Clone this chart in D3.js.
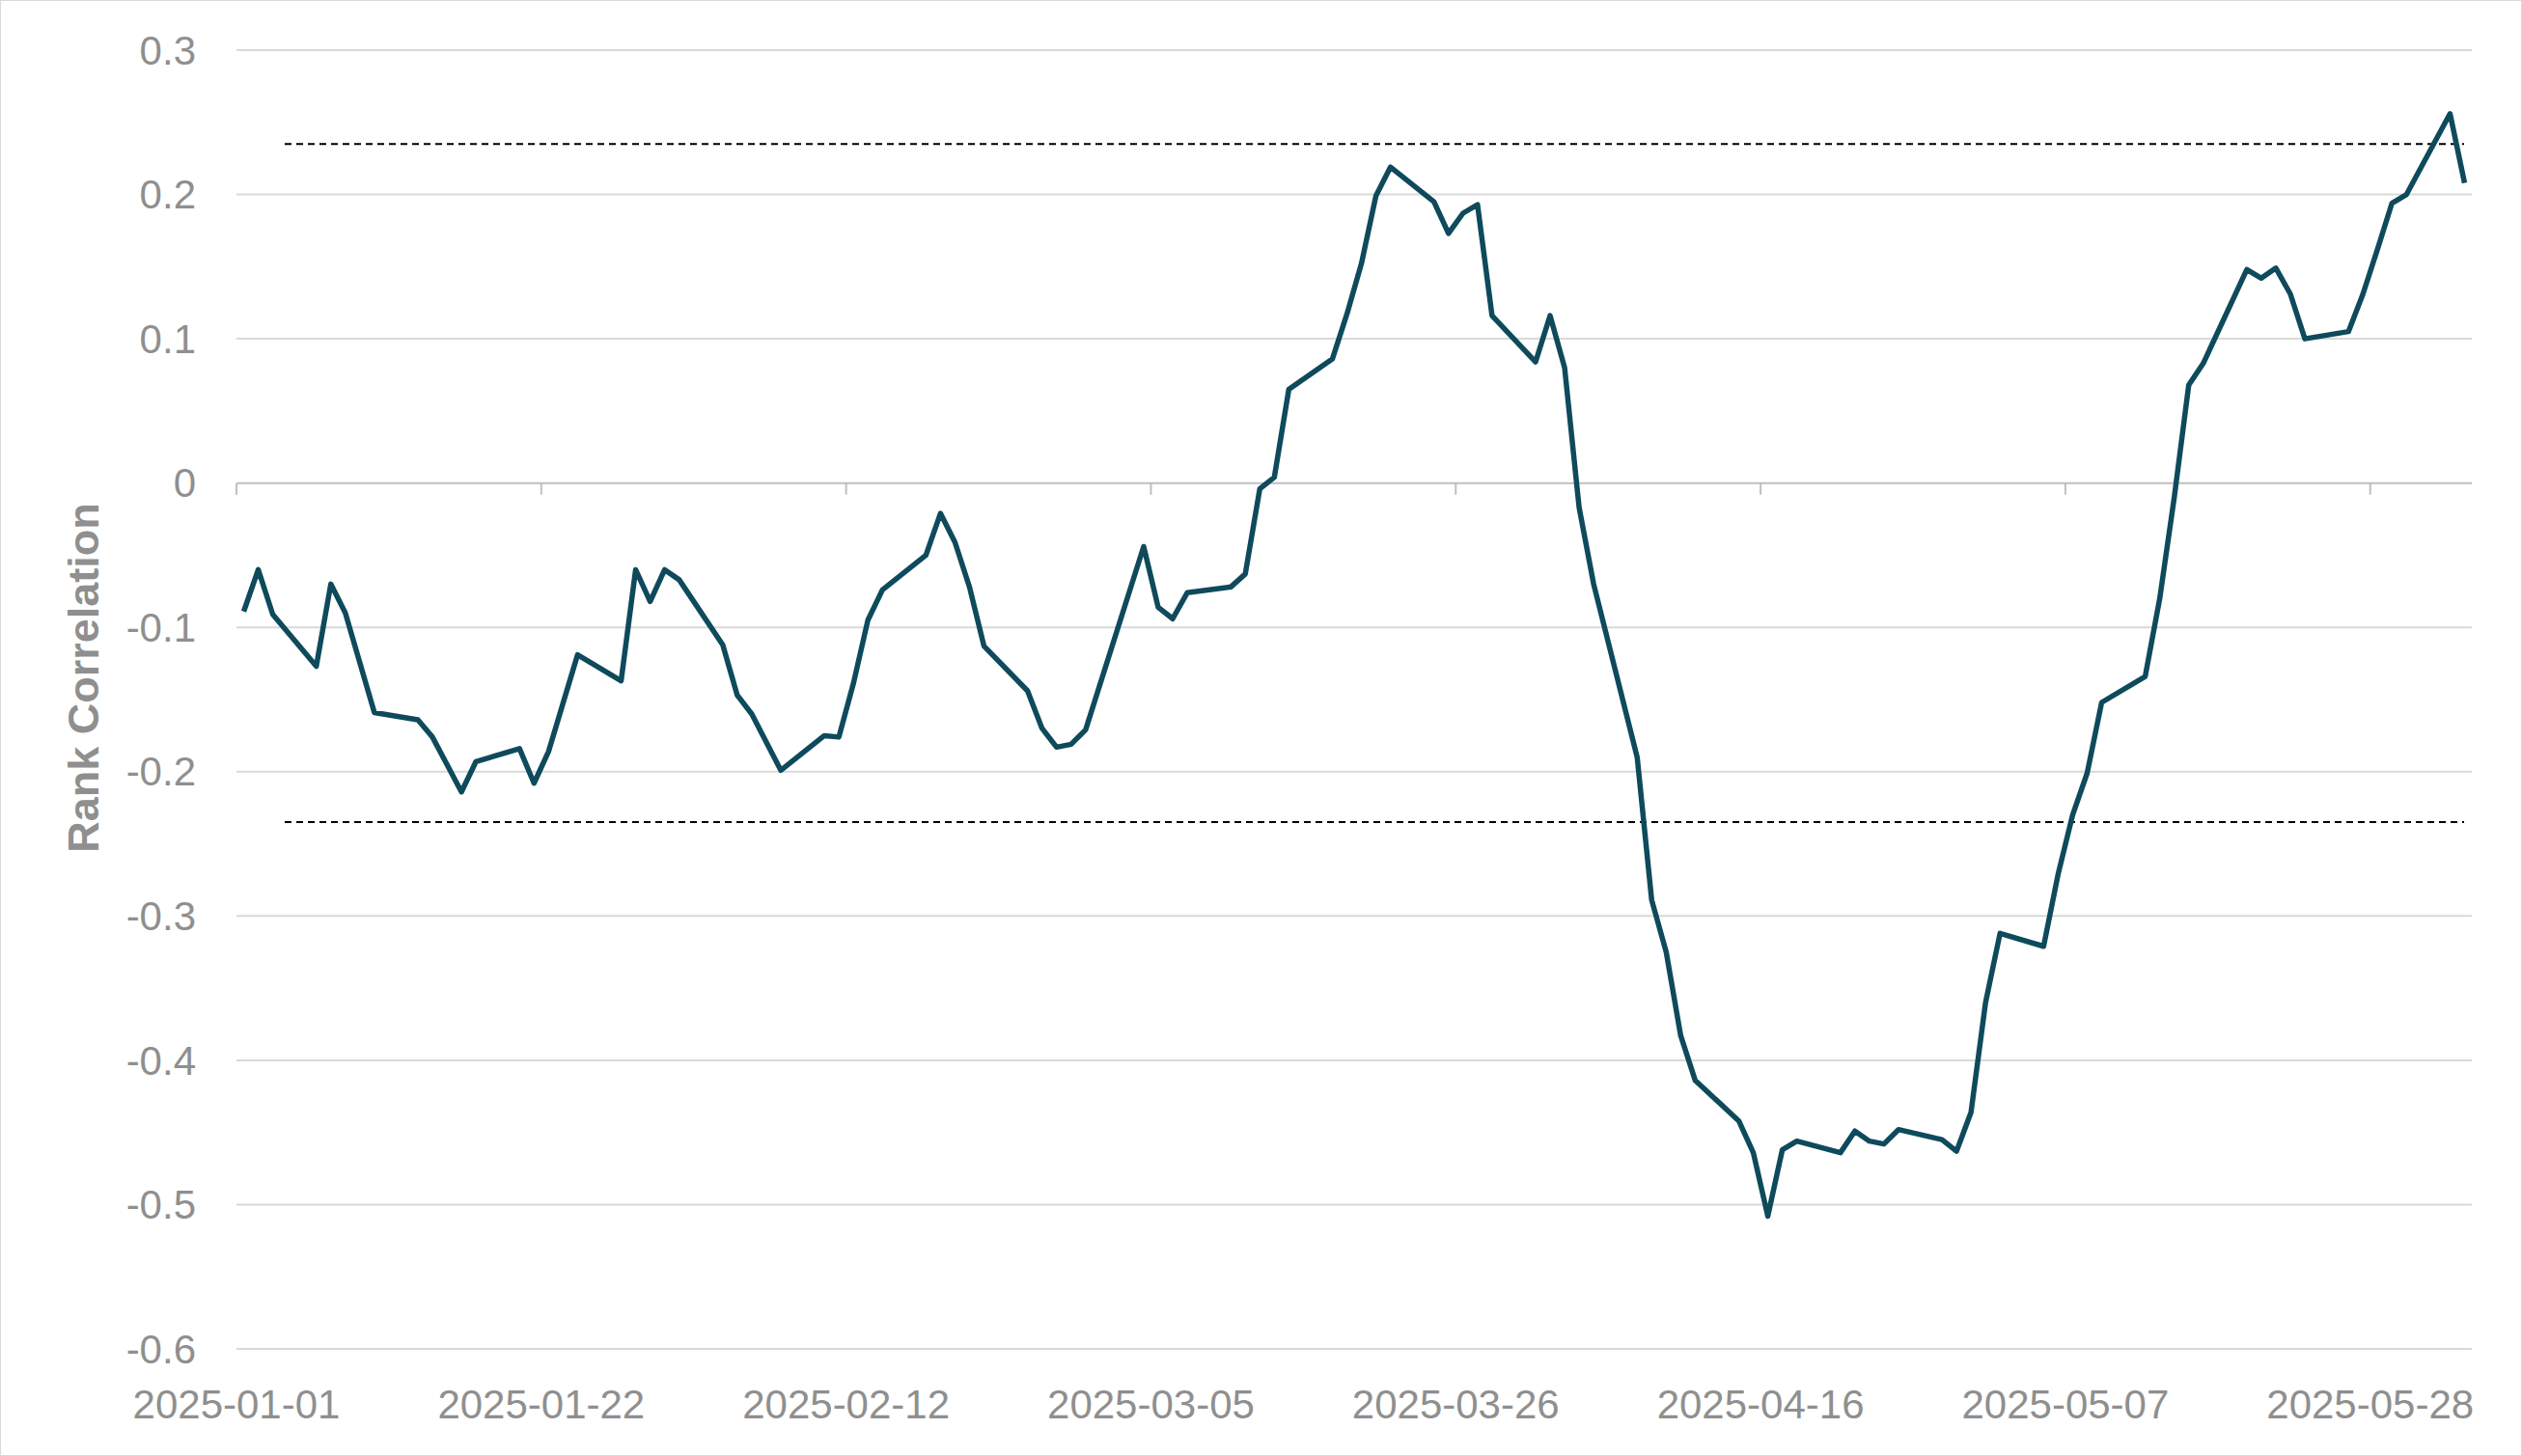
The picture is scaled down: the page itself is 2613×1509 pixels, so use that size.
<!DOCTYPE html>
<html><head><meta charset="utf-8">
<script src="https://cdn.jsdelivr.net/npm/d3@7"></script>
<style>body{margin:0;background:#fff}svg{display:block}</style>
</head><body>
<script>
// days after 2025-01-01
const dayOffsets = [0,1,2,5,6,7,9,12,13,14,15,16,19,20,21,23,26,27,28,29,30,33,34,35,37,40,41,42,43,44,47,48,49,50,51,54,55,56,57,58,62,63,64,65,68,69,70,71,72,75,76,77,78,79,82,83,84,85,86,89,90,91,92,93,96,97,98,99,100,103,104,105,106,107,110,111,112,113,114,117,118,119,120,121,124,125,126,127,128,131,132,133,134,135,138,139,140,141,142,145,146,147,148,149,152,153];
const corr = [-0.089,-0.060,-0.091,-0.127,-0.070,-0.090,-0.159,-0.164,-0.176,-0.195,-0.214,-0.193,-0.184,-0.208,-0.186,-0.119,-0.137,-0.060,-0.082,-0.060,-0.067,-0.112,-0.147,-0.160,-0.199,-0.175,-0.176,-0.139,-0.095,-0.074,-0.050,-0.021,-0.041,-0.072,-0.113,-0.144,-0.170,-0.183,-0.181,-0.171,-0.044,-0.086,-0.094,-0.076,-0.072,-0.063,-0.004,0.004,0.065,0.086,0.117,0.152,0.199,0.219,0.195,0.173,0.187,0.193,0.116,0.084,0.116,0.080,-0.017,-0.070,-0.190,-0.289,-0.325,-0.383,-0.414,-0.442,-0.464,-0.508,-0.462,-0.456,-0.464,-0.449,-0.456,-0.458,-0.448,-0.455,-0.463,-0.436,-0.360,-0.312,-0.321,-0.271,-0.230,-0.201,-0.152,-0.134,-0.080,-0.010,0.068,0.083,0.148,0.142,0.149,0.131,0.100,0.105,0.131,0.162,0.194,0.200,0.256,0.208];
const yTicks = [0.3,0.2,0.1,0,-0.1,-0.2,-0.3,-0.4,-0.5,-0.6];
const yTickLabels = ["0.3","0.2","0.1","0","-0.1","-0.2","-0.3","-0.4","-0.5","-0.6"];
const xTickLabels = ["2025-01-01","2025-01-22","2025-02-12","2025-03-05","2025-03-26","2025-04-16","2025-05-07","2025-05-28"];
const bandLevel = 0.235;

const W = 2613, H = 1509;
const parse = d3.timeParse("%Y-%m-%d");
const start = parse("2025-01-01");
const data = dayOffsets.map((d, i) => ({ date: d3.timeHour.offset(start, d * 24 + 12), v: corr[i] }));

const svg = d3.select("body").append("svg").attr("width", W).attr("height", H);
svg.append("rect").attr("x", 0.5).attr("y", 0.5).attr("width", W - 1).attr("height", H - 1)
    .attr("fill", "#fff").attr("stroke", "#d9d9d9");

const x = d3.scaleTime().domain([start, d3.timeDay.offset(start, 154)]).range([245, 2561]);
const y = d3.scaleLinear().domain([-0.6, 0.3]).range([1398, 52]);
const font = "Arial, 'Liberation Sans', sans-serif";
const grey = "#8f8f8f";

// grid
svg.append("g").selectAll("line").data(yTicks).join("line")
    .attr("x1", 245).attr("x2", 2561)
    .attr("y1", d => y(d)).attr("y2", d => y(d))
    .attr("stroke", d => d === 0 ? "#bfbfbf" : "#d9d9d9").attr("stroke-width", 2);

// y labels
svg.append("g").selectAll("text").data(yTicks).join("text")
    .attr("x", 203).attr("y", d => y(d)).attr("dy", "0.35em")
    .attr("text-anchor", "end").attr("font-family", font).attr("font-size", 42)
    .attr("fill", grey).text((d, i) => yTickLabels[i]);

// x ticks on zero line + labels at bottom
const xTickDates = xTickLabels.map(parse);
svg.append("g").selectAll("line").data(xTickDates).join("line")
    .attr("x1", d => x(d)).attr("x2", d => x(d))
    .attr("y1", y(0)).attr("y2", y(0) + 12)
    .attr("stroke", "#bfbfbf").attr("stroke-width", 2);
svg.append("g").selectAll("text").data(xTickDates).join("text")
    .attr("x", d => x(d)).attr("y", 1470)
    .attr("text-anchor", "middle").attr("font-family", font).attr("font-size", 42)
    .attr("fill", grey).text((d, i) => xTickLabels[i]);

// y title
svg.append("text").attr("transform", `translate(102,${y(-0.135)}) rotate(-90)`)
    .attr("text-anchor", "middle").attr("font-family", font).attr("font-size", 45)
    .attr("font-weight", "bold").attr("fill", grey).text("Rank Correlation");

// dashed bands
svg.append("g").selectAll("line").data([bandLevel, -bandLevel]).join("line")
    .attr("x1", 295).attr("x2", 2553)
    .attr("y1", d => y(d)).attr("y2", d => y(d))
    .attr("stroke", "#000").attr("stroke-width", 2).attr("stroke-dasharray", "7,5");

// series line
svg.append("path").datum(data)
    .attr("fill", "none").attr("stroke", "#0e4a5c").attr("stroke-width", 5.5)
    .attr("stroke-linejoin", "round")
    .attr("d", d3.line().x(d => x(d.date)).y(d => y(d.v)));
</script>
</body></html>
